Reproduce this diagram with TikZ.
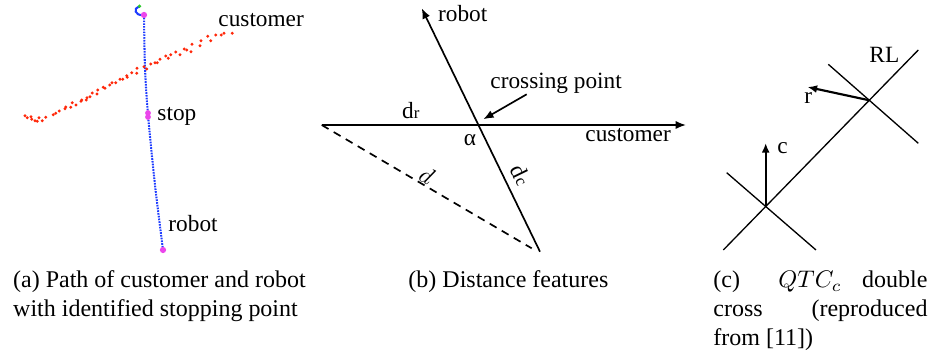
\documentclass[tikz,border=0pt]{standalone}
\usepackage{fontspec}
\setmainfont{Liberation Serif}
\usetikzlibrary{arrows.meta}
\definecolor{dotblue}{RGB}{30,60,255}
\definecolor{dotred}{RGB}{255,40,10}
\definecolor{mag}{RGB}{235,70,235}
\definecolor{hookgreen}{RGB}{40,200,40}
\begin{document}
\begin{tikzpicture}[x=0.4167pt,y=-0.4167pt,
  lbl/.style={inner sep=0pt, anchor=base west, font=\fontsize{9.7}{11.6}\selectfont},
  captxt/.style={inner sep=0pt, anchor=base west, font=\fontsize{10}{12}\selectfont},
  arr/.style={-{Latex[length=4.3pt,width=3.4pt]}, line width=0.7pt},
  arrc/.style={-{Latex[length=4pt,width=3.3pt]}, line width=0.9pt},
  ln/.style={line width=0.7pt},
  lnc/.style={line width=0.55pt}]
\useasboundingbox (0,0) rectangle (930,356);

% ---------- panel (a) ----------
\draw[dotblue, line width=0.85pt, dash pattern=on 0.7pt off 0.45pt]
  plot[smooth] coordinates {(144,15) (145,68) (148,115) (155,185) (163,250)};
\draw[dotblue, line width=0.85pt] (143,15) .. controls (135,16) and (133,8) .. (139,6.5);
\fill[hookgreen] (139.5,6.3) circle (0.8pt);
\foreach \p in {(25,115.7),(27.3,117.7),(31,116.7),(31.7,119.3),(35,120.7),(37.3,121.3),
  (39,117.7),(42.3,120.7),(45.7,117.3),(53.3,114.7),(55.7,113.3),(59.3,111),(65,108.7),
  (65.7,107),(70.7,107.3),(72.3,102.7),(76,105),(81,101.3),(81.7,100),(86.3,100),(87,97.7),
  (90,96.7),(92.3,93),(97,94),(97.7,90),(103.3,87.3),(105,88.3),(109.7,85),(112,82.7),
  (115.7,82.7),(120,79.3),(122.7,79.3),(127.3,77.3),(126.7,75.7),(131.7,72.7),(136.7,73.3),
  (137,68.3),(144,66.7),(146.7,69),(150.7,64),(155,62.7),(157.3,62.7),(160,59.3),(165.7,56),
  (168.3,58.3),(170.7,54.7),(175.7,52),(180,54.7),(184.3,49),(186.7,50),(191,51.7),(192,44.3),
  (200,45.7),(201,40.7),(207.7,36.3),(210.7,40.7),(215.7,35),(221.3,35),(224,33.3),(232.3,33.3)}
  \fill[dotred] \p circle (0.68pt);
\fill[mag] (144,15) circle (1.3pt);
\fill[mag] (148,113) circle (1.2pt);
\fill[mag] (148,117) circle (1.2pt);
\fill[mag] (163,250) circle (1.3pt);
\node[lbl] (custA) at (218,26.7) {customer};
\node[lbl] (stopA) at (157,120.7) {stop};
\node[lbl] (robotA) at (168,231.7) {robot};

% ---------- panel (b) ----------
\coordinate (L) at (321.7,125);
\coordinate (Rt) at (686,125);
\coordinate (B) at (540,251.7);
\coordinate (T) at (421.7,8.3);
\coordinate (Dend) at (531.7,248.3);
\coordinate (cpS) at (526.7,94.3);
\coordinate (cpE) at (483.3,119.3);
\draw[arr] (L) -- (Rt);
\draw[arr] (B) -- (T);
\draw[ln, dash pattern=on 3.3pt off 2.5pt] (L) -- (Dend);
\draw[arr] (cpS) -- (cpE);
\node[lbl] (robotB) at (437.7,21.7) {robot};
\node[lbl] (cross) at (490,88.3) {crossing point};
\node[lbl] (dr) at (401.7,118.3) {d{\fontsize{7}{8}\selectfont r}};
\node[lbl, anchor=base] (alpha) at (470,145.7) {α};
\node[lbl] (custB) at (585,141.7) {customer};
\node[inner sep=0pt, rotate=-30, font=\fontsize{9.7}{11.6}\selectfont] (dd) at (427,175) {$d$};
\node[inner sep=0pt, rotate=-64, font=\fontsize{9.7}{11.6}\selectfont] (dc) at (521,175) {d{\fontsize{7}{8}\selectfont c}};

% ---------- panel (c) ----------
\coordinate (cA) at (765.7,206.5);
\coordinate (cB) at (869.3,100.3);
\coordinate (g1) at (723.3,250);
\coordinate (g2) at (918.3,50);
\coordinate (h1) at (726.7,172.7);
\coordinate (h2) at (816,250);
\coordinate (k1) at (828.3,64.3);
\coordinate (k2) at (918.3,143.3);
\coordinate (cT) at (765.7,143);
\coordinate (rT) at (807.5,87);
\draw[lnc] (g1) -- (g2);
\draw[lnc] (h1) -- (h2);
\draw[lnc] (k1) -- (k2);
\draw[arrc] (cA) -- (cT);
\draw[arrc] (cB) -- (rT);
\node[lbl] (RL) at (869,63) {RL};
\node[lbl] (rl) at (804,104) {r};
\node[lbl] (cl) at (777,153.3) {c};

% ---------- captions ----------
\node[captxt] (capa1) at (12.7,288) {(a) Path of customer and robot};
\node[captxt] (capa2) at (12.7,317) {with identified stopping point};
\node[captxt] (capb) at (408,288) {(b) Distance features};
\node[captxt] (capc1) at (713,288) {(c)};
\node[captxt] (capc2) at (778,288) {$QTC_c$};
\node[captxt, anchor=base east] (capc3) at (928,288) {double};
\node[captxt] (capc4) at (713,317) {cross};
\node[captxt, anchor=base east] (capc5) at (928,317) {(reproduced};
\node[captxt] (capc6) at (713,346) {from [11])};
\end{tikzpicture}
\end{document}
